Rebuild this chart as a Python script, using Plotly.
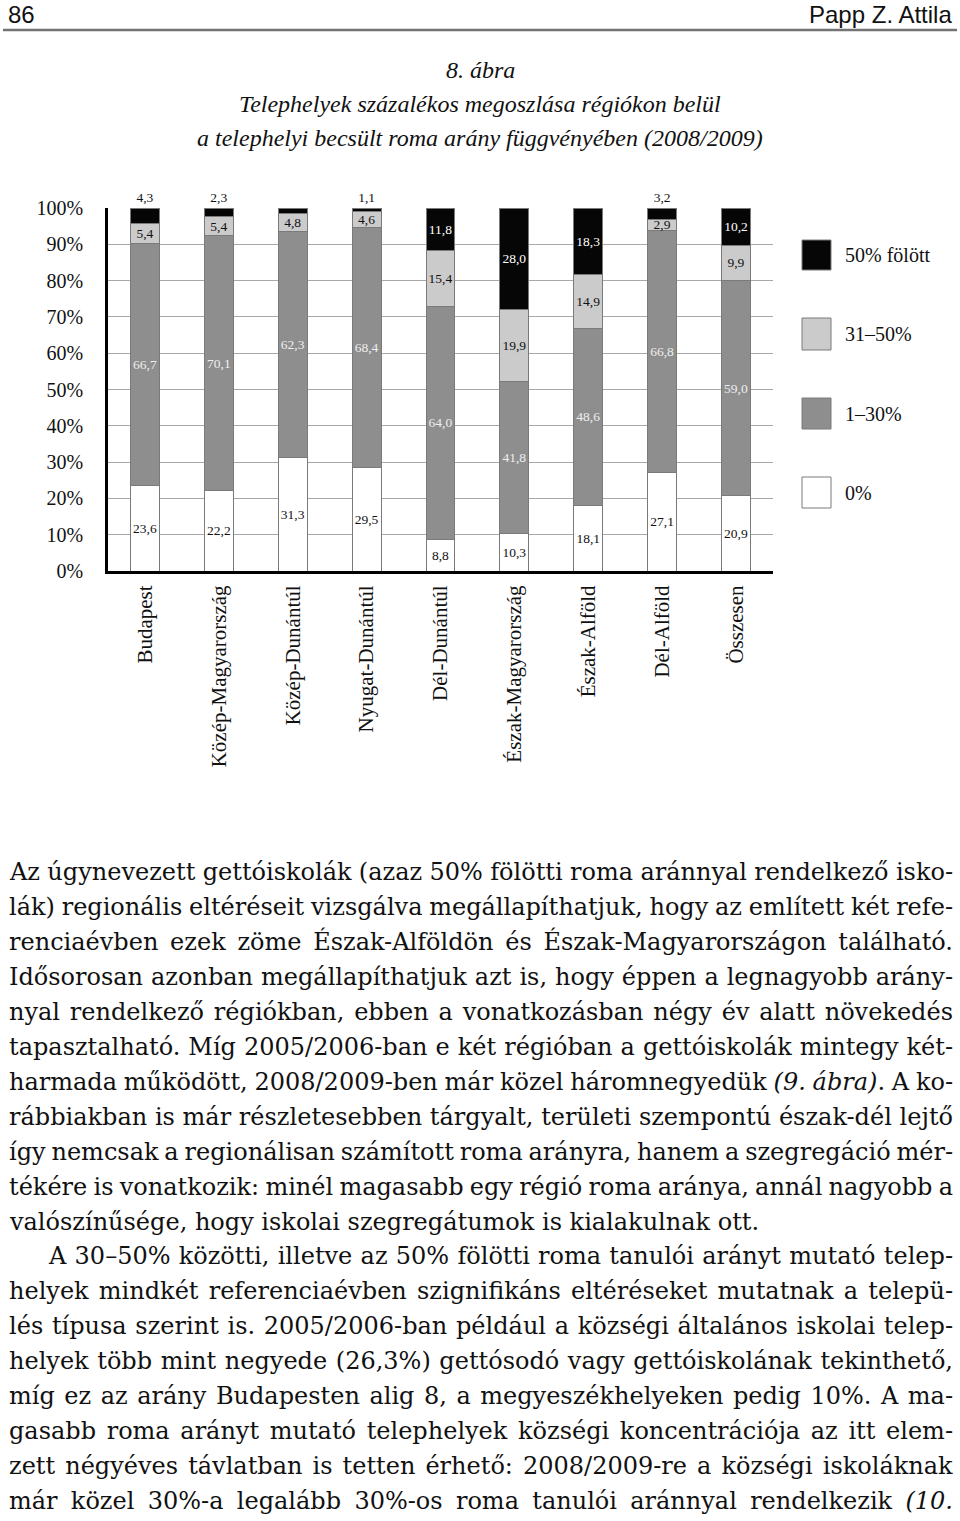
import json
import re
import plotly.graph_objects as go

W, H = 960, 1521
SERIF = "Liberation Serif"
BODY = "DejaVu Serif"
SANS = "Liberation Sans"

# --- data -------------------------------------------------------------
regions = ["Budapest", "Közép-Magyarország", "Közép-Dunántúl", "Nyugat-Dunántúl",
           "Dél-Dunántúl", "Észak-Magyarország", "Észak-Alföld", "Dél-Alföld", "Összesen"]
share_0 = [23.6, 22.2, 31.3, 29.5, 8.8, 10.3, 18.1, 27.1, 20.9]
share_1_30 = [66.7, 70.1, 62.3, 68.4, 64.0, 41.8, 48.6, 66.8, 59.0]
share_31_50 = [5.4, 5.4, 4.8, 4.6, 15.4, 19.9, 14.9, 2.9, 9.9]
share_50_plus = [4.3, 2.3, 1.6, 1.1, 11.8, 28.0, 18.3, 3.2, 10.2]
series_names = ["0%", "1–30%", "31–50%", "50% fölött"]
y_ticks = list(range(0, 101, 10))
y_ticktext = [f"{v}%" for v in y_ticks]

title_lines = ["8. ábra",
               "Telephelyek százalékos megoszlása régiókon belül",
               "a telephelyi becsült roma arány függvényében (2008/2009)"]

body_lines = [
    "Az úgynevezett gettóiskolák (azaz 50% fölötti roma aránnyal rendelkező isko-",
    "lák) regionális eltéréseit vizsgálva megállapíthatjuk, hogy az említett két refe-",
    "renciaévben ezek zöme Észak-Alföldön és Észak-Magyarországon található.",
    "Idősorosan azonban megállapíthatjuk azt is, hogy éppen a legnagyobb arány-",
    "nyal rendelkező régiókban, ebben a vonatkozásban négy év alatt növekedés",
    "tapasztalható. Míg 2005/2006-ban e két régióban a gettóiskolák mintegy két-",
    "harmada működött, 2008/2009-ben már közel háromnegyedük <i>(9. ábra)</i>. A ko-",
    "rábbiakban is már részletesebben tárgyalt, területi szempontú észak-dél lejtő",
    "így nemcsak a regionálisan számított roma arányra, hanem a szegregáció mér-",
    "tékére is vonatkozik: minél magasabb egy régió roma aránya, annál nagyobb a",
    "valószínűsége, hogy iskolai szegregátumok is kialakulnak ott.",
    "A 30–50% közötti, illetve az 50% fölötti roma tanulói arányt mutató telep-",
    "helyek mindkét referenciaévben szignifikáns eltéréseket mutatnak a telepü-",
    "lés típusa szerint is. 2005/2006-ban például a községi általános iskolai telep-",
    "helyek több mint negyede (26,3%) gettósodó vagy gettóiskolának tekinthető,",
    "míg ez az arány Budapesten alig 8, a megyeszékhelyeken pedig 10%. A ma-",
    "gasabb roma arányt mutató telephelyek községi koncentrációja az itt elem-",
    "zett négyéves távlatban is tetten érhető: 2008/2009-re a községi iskoláknak",
    "már közel 30%-a legalább 30%-os roma tanulói aránnyal rendelkezik <i>(10.</i>",
]
indented = {11}
not_justified = {10}


def px(x):
    return x / W


def py(y):
    return 1 - y / H


def fmt(v):
    return f"{v:.1f}".replace(".", ",")


# --- chart -------------------------------------------------------------
fills = ["#ffffff", "#8e8e8e", "#cbcbcb", "#060606"]
label_colors = ["#111111", "#eeeeee", "#111111", "#ffffff"]

fig = go.Figure()
for name, vals, fill, tcol in zip(series_names,
                                  [share_0, share_1_30, share_31_50, share_50_plus],
                                  fills, label_colors):
    pos = ["outside" if (name == "50% fölött" and v < 5) else "inside" for v in vals]
    fig.add_bar(
        x=regions, y=vals, name=name, width=0.39,
        marker=dict(color=fill, line=dict(color="#7a7a7a", width=1)),
        text=[fmt(v) for v in vals], textposition=pos, textangle=0,
        insidetextanchor="middle", constraintext="none", cliponaxis=False,
        insidetextfont=dict(family=SERIF, size=13.5, color=tcol),
        outsidetextfont=dict(family=SERIF, size=13.5, color="#111111"),
        showlegend=False, hoverinfo="skip",
    )

fig.update_layout(
    width=W, height=H, margin=dict(l=0, r=0, t=0, b=0),
    paper_bgcolor="white", plot_bgcolor="white",
    barmode="stack", barnorm="percent", showlegend=False,
    font=dict(family=SERIF, color="#111111"),
)
fig.update_xaxes(
    domain=[px(108), px(773)], range=[-0.5, 8.5], automargin=False,
    showline=True, linecolor="#000000", linewidth=3, ticks="",
    showgrid=False, zeroline=False, tickangle=-90, ticklabelstandoff=3,
    tickfont=dict(family=SERIF, size=21, color="#111111"),
)
fig.update_yaxes(
    domain=[py(571), py(208)], range=[0, 100], automargin=False,
    tickmode="array", tickvals=y_ticks, ticktext=y_ticktext,
    ticks="", ticklabelstandoff=18,
    showgrid=True, gridcolor="#a8a8a8", gridwidth=1, zeroline=False,
    showline=True, linecolor="#000000", linewidth=2.5,
    tickfont=dict(family=SERIF, size=20, color="#111111"),
)

# legend drawn by hand (boxes + labels)
legend_y = [(240, 270), (318, 350), (398, 429), (477, 508)]
for name, fill, (y0, y1) in zip(series_names[::-1], fills[::-1], legend_y):
    fig.add_shape(type="rect", xref="paper", yref="paper",
                  x0=px(802), x1=px(831), y0=py(y1), y1=py(y0),
                  fillcolor=fill, line=dict(color="#7a7a7a", width=1))
    fig.add_annotation(x=px(843), y=py((y0 + y1) / 2), xref="paper", yref="paper",
                       text=name, showarrow=False, xanchor="left", yanchor="middle",
                       font=dict(family=SERIF, size=20, color="#111111"))

# --- page header -------------------------------------------------------
fig.add_annotation(x=px(6), y=py(14), xref="paper", yref="paper", text="86",
                   showarrow=False, xanchor="left", yanchor="middle",
                   font=dict(family=SANS, size=24, color="#111111"))
fig.add_annotation(x=px(954), y=py(14), xref="paper", yref="paper", text="Papp Z. Attila",
                   showarrow=False, xanchor="right", yanchor="middle",
                   font=dict(family=SANS, size=24, color="#111111"))
fig.add_shape(type="line", xref="paper", yref="paper",
              x0=px(3), x1=px(957), y0=py(30), y1=py(30),
              line=dict(color="#737373", width=2.5))

for txt, yc in zip(title_lines, [70, 104, 138]):
    fig.add_annotation(x=0.5, y=py(yc), xref="paper", yref="paper", text=txt,
                       showarrow=False, xanchor="center", yanchor="middle",
                       font=dict(family=SERIF, size=24, style="italic", color="#111111"))

# --- body text ---------------------------------------------------------
justify = []
for i, line in enumerate(body_lines):
    x0 = 46 if i in indented else 7
    fig.add_annotation(x=px(x0), y=py(872 + i * 34.95), xref="paper", yref="paper",
                       text=line, showarrow=False, xanchor="left", yanchor="middle",
                       align="left", font=dict(family=BODY, size=24, color="#111111"))
    if i not in not_justified:
        justify.append(re.sub(r"<[^>]+>", "", line))

# stretch word spacing so body lines are justified to the right margin
post = """
document.body.style.margin = '0';
var gd = document.getElementById('{plot_id}');
var just = %s;
var box = gd.getBoundingClientRect();
gd.querySelectorAll('text.annotation-text').forEach(function (t) {
  var s = t.textContent.replace(/\\u00a0/g, ' ');
  if (just.indexOf(s) < 0) return;
  var n = (s.match(/ /g) || []).length;
  if (!n) return;
  var r = t.getBoundingClientRect();
  var extra = (box.left + 953) - r.right;
  t.style.wordSpacing = (extra / n) + 'px';
});
""" % json.dumps(justify, ensure_ascii=False)

fig.write_html("out.html", config={"displayModeBar": False}, post_script=post)
